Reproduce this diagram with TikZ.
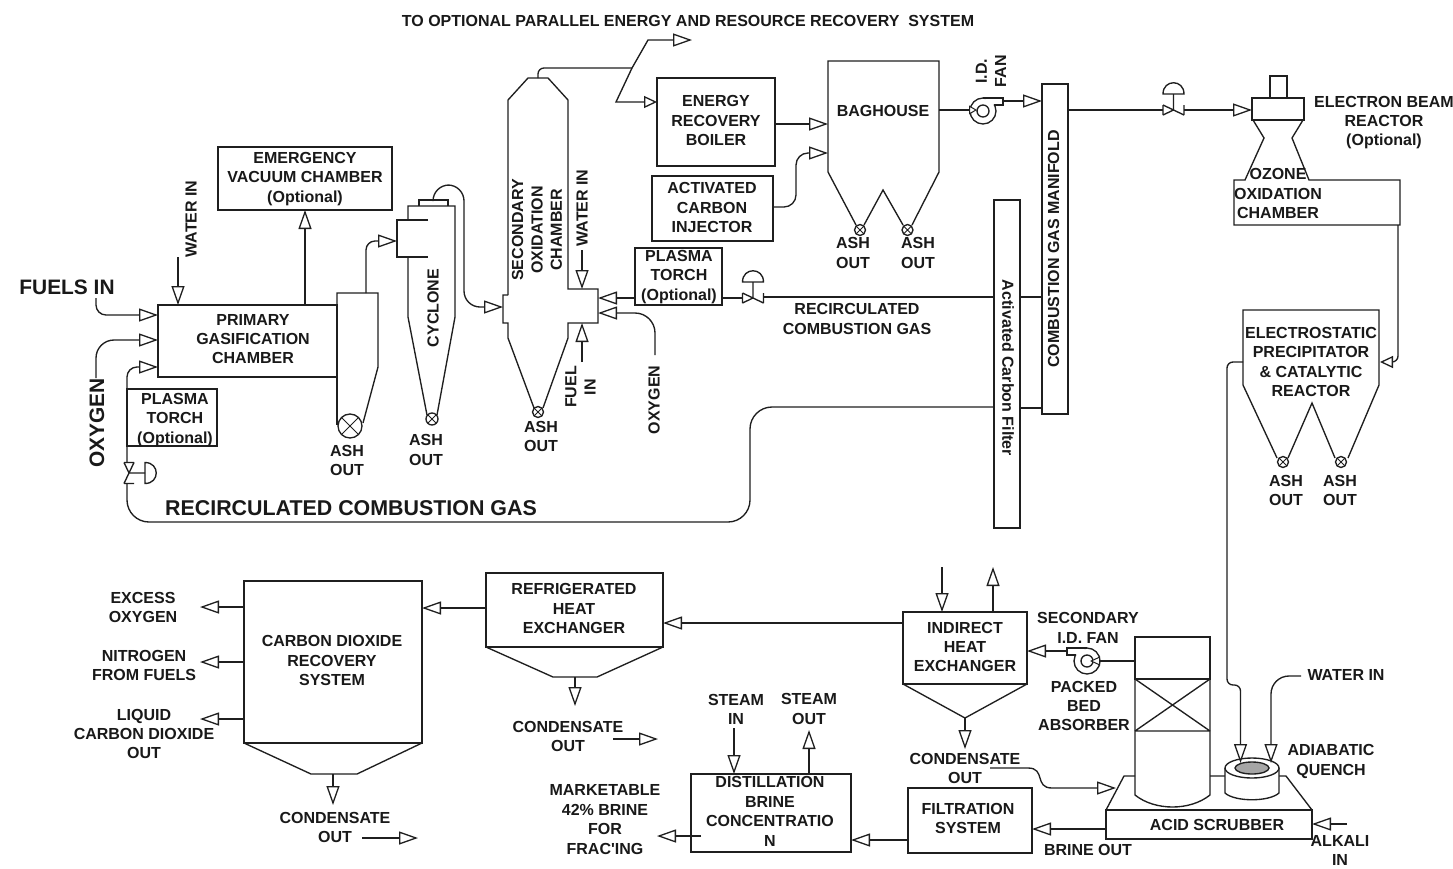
\documentclass[tikz,border=0pt]{standalone}
\usepackage{fontspec}
\setmainfont{Liberation Sans}[Ligatures=TeXOff]
\usetikzlibrary{arrows.meta}
\newcommand{\fsz}[2]{\fontsize{#1}{#2}\selectfont}
\newcommand{\BoxN}[6][]{%
  \node[box,#1,minimum width={(#4)-(#2)},minimum height={(#5)-(#3)}] (#6) at ({((#2)+(#4))/2},{((#3)+(#5))/2}) {};}
\tikzset{
  ln/.style={line width=1.35pt,draw=black!88,line join=miter},
  thk/.style={ln,line width=1.9pt},
  box/.style={rectangle,draw=black!88,line width=1.5pt,inner sep=0pt,outer sep=0pt,fill=white},
  lbl/.style={font=\bfseries\fsz{16}{19.4},align=center,inner sep=0pt,text=black!90},
  big/.style={lbl,font=\bfseries\fsz{20.9}{22}},
  arr/.style={ln,-{Triangle[open,length=19pt,width=13pt,fill=white,line width=1.3pt]}},
  arrt/.style={thk,-{Triangle[open,length=19pt,width=13pt,fill=white,line width=1.3pt]}},
  arrs/.style={ln,-{Triangle[open,length=13pt,width=12pt,fill=white,line width=1.3pt]}},
  ashv/.pic={\draw[ln,fill=white] (0,0) circle (#1pt);
    \draw[ln,line width=1pt] (45:#1pt)--(225:#1pt) (135:#1pt)--(315:#1pt);},
  valve/.pic={
    \draw[ln] (-10.5,-5)--(-10.5,5) (10.5,-5)--(10.5,5) (-10.5,-5)--(10.5,5) (-10.5,5)--(0,0)--(0,-16);
    \draw[ln] (-10.5,-16) .. controls (-10.5,-31) and (10.5,-31) .. (10.5,-16) -- cycle;},
  fan/.pic={
    \draw[ln,fill=white] (0,0) circle (13pt);
    \draw[ln] (0,0) circle (6pt);
    \draw[ln,fill=white] (0,-13) -- (20,-13) -- (20,-6) -- (11,-6);}
}
\begin{document}
\begin{tikzpicture}[x=1pt,y=-1pt]
\useasboundingbox[fill=white] (0,0) rectangle (1453,868);

% ---- top label
\node[lbl] (toptxt) at (688,21) {TO OPTIONAL PARALLEL ENERGY AND RESOURCE RECOVERY\ \ SYSTEM};

% ---- primary gasification
\BoxN{158}{305}{337}{377}{pgc}
\node[lbl] (pgct) at (253,339) {PRIMARY\\GASIFICATION\\CHAMBER};
\BoxN{218}{147}{392}{210}{evc}
\node[lbl] (evct) at (305,179) {EMERGENCY\\VACUUM CHAMBER\\(Optional)};
\draw[arrt] (pgc.north -| evc) -- (evc.south);
\coordinate (wi1) at (178,257);
\draw[arr] (wi1) -- (wi1 |- pgc.north);
\node[lbl,rotate=90] (wi1t) at (191,219) {WATER IN};
\node[big] (fuels) at (67,287) {FUELS IN};
\coordinate (fu1) at (96,298);
\draw[arr,rounded corners=10pt] (fu1) -- (96,315) -- (pgc.west |- 0,315);
\node[big,rotate=90] (oxy1t) at (97,423) {OXYGEN};
\coordinate (ox1) at (96,378);
\draw[arr,rounded corners=18pt] (ox1) -- (96,340) -- (pgc.west |- 0,340);

% ---- recirculated gas (lower)
\BoxN{127}{389}{217}{446}{pt1}
\node[lbl] (pt1t) at (175,420) {PLASMA\\TORCH\\(Optional)};
\node[big,font=\bfseries\fsz{21.4}{22}] (rc1t) at (351,508) {RECIRCULATED COMBUSTION GAS};
\pic[rotate=-90] at (129,473) {valve};
\coordinate (v1a) at (127,462);
\coordinate (v1b) at (127,484);
\draw[arr,rounded corners=10pt] (v1a) -- (127,367) -- (pgc.west |- 0,367);

% ---- ash tank
\coordinate (tk1) at (366,293);
\draw[ln] (337,377) -- (337,293) -- (378,293) -- (378,367) -- (363,423);
\draw[ln] (337,377) -- (337,425);
\pic at (350,426) {ashv=12};
\node[lbl] (ash1) at (347,460.5) {ASH\\OUT};

% ---- cyclone
\draw[ln] (428,220) -- (397,220) -- (397,257) -- (428,257);
\draw[ln] (408,220) -- (408,206) -- (455,206) -- (455,317) -- (437,415);
\draw[ln] (408,257) -- (408,317) -- (427,415);
\draw[ln] (419,206) -- (419,200) -- (448,200) -- (448,206);
\pic at (432,419) {ashv=6};
\coordinate (cyin) at (397,241);
\draw[arr,rounded corners=9pt] (tk1) -- (366,241) -- (cyin);
\node[lbl,rotate=90] (cyt) at (433,308) {CYCLONE};
\node[lbl] (ash2) at (426,450) {ASH\\OUT};

% ---- secondary oxidation chamber
\coordinate (soL) at (503,307);
\coordinate (soR1) at (598,298);
\coordinate (soR2) at (598,313);
\coordinate (soT) at (582,289);
\coordinate (soB) at (582,323);
\coordinate (soTop) at (538,78);
\draw[ln] (508,295) -- (508,100) -- (528,78) -- (548,78) -- (568,100) -- (568,289) -- (598,289) -- (598,323) -- (568,323) -- (568,338) -- (543,408);
\draw[ln] (508,295) -- (503,295) -- (503,323) -- (508,323) -- (508,338) -- (534,408);
\pic at (538,412) {ashv=5.5};
\node[lbl,rotate=90] (sot) at (537,230) {SECONDARY\\OXIDATION\\CHAMBER};
\node[lbl] (ash3) at (541,436.5) {ASH\\OUT};
\draw[arr,rounded corners=16pt] (433,200) -- (433,185) -- (464,185) -- (464,307) -- (soL);
\coordinate (wi2) at (582,250);
\draw[arr] (wi2) -- (soT);
\node[lbl,rotate=90] (wi2t) at (582,208) {WATER IN};
\coordinate (fu2) at (582,362);
\draw[arr] (fu2) -- (soB);
\node[lbl,rotate=90] (fu2t) at (580.5,387) {FUEL\\IN};
\coordinate (ox2) at (655,355);
\draw[arr,rounded corners=20pt] (ox2) -- (655,313) -- (soR2);
\node[lbl,rotate=90] (ox2t) at (654,400) {OXYGEN};

% ---- torch + recirc upper
\BoxN{635}{248}{722}{305}{pt2}
\node[lbl] (pt2t) at (679,277) {PLASMA\\TORCH\\(Optional)};
\draw[arrt] (pt2.west |- soR1) -- (soR1);
\pic at (753,298) {valve};
\draw[thk] (pt2.east |- soR1) -- (742.5,298);
\node[lbl] (rc2t) at (857,319) {RECIRCULATED\\COMBUSTION GAS};

% ---- boiler
\BoxN{657}{78}{775}{166}{erb}
\node[lbl] (erbt) at (716,120.5) {ENERGY\\RECOVERY\\BOILER};
\coordinate (jn) at (632,68);
\coordinate (topout) at (692,40);
\draw[ln,rounded corners=6pt] (soTop) -- (538,68) -- (jn);
\draw[arr] (jn) -- (648,40) -- (topout);
\draw[arrs] (jn) -- (616,102) -- (erb.west |- 0,102);

% ---- baghouse
\BoxN[draw=none,fill=none]{828}{61}{939}{172}{bag}
\draw[ln] (856,225) -- (828,172) -- (828,61) -- (939,61) -- (939,172) -- (912,225) (864,225) -- (883,190) -- (903,225);
\node[lbl] (bagt) at (883,111) {BAGHOUSE};
\pic at (860,230) {ashv=5.5};
\pic at (907.5,230) {ashv=5.5};
\node[lbl] (ash4) at (853,253) {ASH\\OUT};
\node[lbl] (ash5) at (918,253) {ASH\\OUT};
\draw[arr] (erb.east |- 0,124) -- (bag.west |- 0,124);
\BoxN{652}{176}{773}{241}{aci}
\node[lbl] (acit) at (712,207.5) {ACTIVATED\\CARBON\\INJECTOR};
\draw[arr,rounded corners=12pt] (aci.east |- 0,207) -- (796,207) -- (796,153) -- (bag.west |- 0,153);

% ---- fan 1
\pic at (983,111) {fan};
\draw[thk,-{Triangle[open,length=8pt,width=9pt,fill=white,line width=1pt]}] (bag.east |- 0,110) -- (977,110);
\node[lbl,rotate=90] (fant) at (991,71) {I.D.\\FAN};

% ---- manifold, filter
\BoxN{1042}{84}{1068}{414}{man}
\node[lbl,rotate=90] (mant) at (1053.5,249) {COMBUSTION GAS MANIFOLD};
\BoxN{994}{200}{1020}{528}{acf}
\node[lbl,rotate=-90] (acft) at (1008,368) {Activated Carbon Filter};
\draw[arr] (1003,101) -- (man.west |- 0,101);
\draw[ln] (764,297) -- (acf.west |- 0,297);
\draw[ln] (acf.east |- 0,297) -- (man.west |- 0,297);
\draw[ln] (acf.east |- 0,408) -- (man.west |- 0,408);
\draw[ln,rounded corners=22pt] (acf.west |- 0,407) -- (750,407) -- (750,522) -- (127,522) -- (v1b);

% ---- electron beam and ozone
\pic at (1173.5,110) {valve};
\draw[ln] (man.east |- 0,110) -- (1163,110);
\coordinate (ebin) at (1252,110);
\draw[arr] (1184,110) -- (ebin);
\BoxN{1270}{76}{1287}{98}{ebt}
\BoxN{1252}{98}{1304}{120}{ebw}
\draw[ln] (1253,120) -- (1264,138) -- (1245,180) -- (1234,180) -- (1234,225) -- (1400,225) -- (1400,180) -- (1309,180) -- (1292,138) -- (1303,120);
\node[lbl] (ozt) at (1278,193.5) {OZONE\\OXIDATION\\CHAMBER};
\node[lbl] (ebrt) at (1384,122.5) {ELECTRON BEAM\\REACTOR\\(Optional)};
\coordinate (ozout) at (1398,225);

% ---- ESP
\draw[ln] (1243,385) -- (1243,310) -- (1379,310) -- (1379,385) -- (1348,458) (1335,458) -- (1312,403) -- (1288,458) (1277,458) -- (1243,385);
\coordinate (espin) at (1380,362);
\coordinate (espout) at (1243,362);
\draw[arrs,rounded corners=6pt] (ozout) -- (1398,362) -- (espin);
\node[lbl] (espt) at (1311,362) {ELECTROSTATIC\\PRECIPITATOR\\\&\ CATALYTIC\\REACTOR};
\pic at (1283,462) {ashv=5.5};
\pic at (1341,462) {ashv=5.5};
\node[lbl] (ash6) at (1286,490.5) {ASH\\OUT};
\node[lbl] (ash7) at (1340,490.5) {ASH\\OUT};

% ---- scrubber
\BoxN{1135}{637}{1210}{679}{tw1}
\draw[ln] (1135,679) -- (1135,795) .. controls (1155,811) and (1190,811) .. (1210,795) -- (1210,679);
\draw[ln] (1135,731) -- (1210,731) (1135,679) -- (1210,731) (1210,679) -- (1135,731);
\BoxN{1106}{810}{1312}{839}{acid}
\node[lbl] (acidt) at (1217,825) {ACID SCRUBBER};
\draw[ln] (1106,810) -- (1124,776) -- (1135,776) (1210,776) -- (1225,776) (1279,776) -- (1286,776) -- (1312,810);
% quench
\draw[ln,fill=white] (1225,768) -- (1225,793) .. controls (1235,802) and (1269,802) .. (1279,793) -- (1279,768);
\draw[ln,fill=white] (1252,768) ellipse (27pt and 10pt);
\draw[ln,fill=black!35] (1252,768) ellipse (17pt and 6pt);
\coordinate (qa) at (1240.5,763);
\coordinate (qb) at (1271,763);
\draw[arr,rounded corners=6pt] (espout) -- (1227,362) -- (1227,685) -- (1240.5,685) -- (qa);
\coordinate (wi3) at (1301,676);
\draw[arr,rounded corners=18pt] (wi3) -- (1271,676) -- (qb);
\node[lbl] (wi3t) at (1346,675) {WATER IN};
\node[lbl] (qt) at (1331,761.5) {ADIABATIC\\QUENCH};
\node[lbl] (pbt) at (1084,706) {PACKED\\BED\\ABSORBER};

% ---- indirect HX
\BoxN{903}{612}{1027}{684}{ihx}
\node[lbl] (ihxt) at (965,647) {INDIRECT\\HEAT\\EXCHANGER};
\coordinate (ihf) at (965,718);
\draw[ln] (903,684) -- (ihf) -- (1027,684);
\coordinate (ci1) at (942,567);
\coordinate (co1) at (993,567);
\draw[arr] (ci1) -- (ci1 |- ihx.north);
\draw[arr] (co1 |- ihx.north) -- (co1);
\coordinate (ihd) at (965,749);
\draw[arr] (ihf) -- (ihd);
\node[lbl] (cnd1) at (965,768.5) {CONDENSATE\\OUT};
\pic[xscale=-1] at (1087,661) {fan};
\draw[ln,-{Triangle[open,length=10pt,width=9pt,fill=white,line width=1pt]}] (tw1.west |- 0,661) -- (1090,661);
\draw[arrt] (1067,651) -- (ihx.east |- 0,651);
\node[lbl] (sect) at (1088,628) {SECONDARY\\I.D. FAN};
\coordinate (scin) at (1116,788);
\coordinate (cs1) at (990,768);
\draw[arr] (cs1) -- (1028,768) .. controls (1046,768) and (1034,788) .. (1052,788) -- (scin);

% ---- filtration, distillation
\BoxN{908}{788}{1032}{853}{fil}
\node[lbl] (filt) at (968,818.5) {FILTRATION\\SYSTEM};
\draw[arr] (acid.west |- 0,829) -- (fil.east |- 0,829);
\node[lbl] (brt) at (1088,850) {BRINE OUT};
\coordinate (alk) at (1347,824);
\draw[arr] (alk) -- (acid.east |- alk);
\node[lbl] (alkt) at (1340,850.5) {ALKALI\\IN};
\BoxN{691}{774}{851}{852}{dis}
\node[lbl] (dist) at (770,811.5) {DISTILLATION\\BRINE\\CONCENTRATIO\\N};
\draw[arr] (fil.west |- 0,840) -- (dis.east |- 0,840);
\coordinate (mk) at (657,836);
\draw[arr] (701,836) -- (mk);
\node[lbl] (mkt) at (605,819.5) {MARKETABLE\\42\% BRINE\\FOR\\FRAC'ING};
\coordinate (si) at (734,728);
\coordinate (so) at (809,730);
\draw[arr] (si) -- (si |- dis.north);
\draw[arr] (so |- dis.north) -- (so);
\node[lbl] (sit) at (736,709.5) {STEAM\\IN};
\node[lbl] (sot2) at (809,709) {STEAM\\OUT};

% ---- refrigerated HX
\BoxN{486}{573}{663}{647}{rhx}
\node[lbl] (rhxt) at (574,608.5) {REFRIGERATED\\HEAT\\EXCHANGER};
\draw[ln] (486,647) -- (553,677) -- (597,677) -- (663,647);
\coordinate (rf) at (575,677);
\coordinate (rd) at (575,706);
\draw[arr] (rf) -- (rd);
\draw[arr] (ihx.west |- 0,623) -- (rhx.east |- 0,623);
\node[lbl] (cnd2) at (568,736.5) {CONDENSATE\\OUT};
\coordinate (c2a) at (613,739);
\coordinate (c2b) at (658,739);
\draw[arr] (c2a) -- (c2b);

% ---- CO2 recovery
\BoxN{244}{581}{422}{743}{co2}
\node[lbl] (co2t) at (332,660.5) {CARBON DIOXIDE\\RECOVERY\\SYSTEM};
\draw[ln] (244,743) -- (311,774) -- (357,774) -- (422,743);
\coordinate (cf) at (333,774);
\coordinate (cd) at (333,805);
\draw[arr] (cf) -- (cd);
\draw[arr] (rhx.west |- 0,608) -- (co2.east |- 0,608);
\coordinate (o1) at (200,607);
\coordinate (o2) at (200,662);
\coordinate (o3) at (200,719);
\draw[arr] (co2.west |- o1) -- (o1);
\draw[arr] (co2.west |- o2) -- (o2);
\draw[arrt] (co2.west |- o3) -- (o3);
\node[lbl] (o1t) at (143,607.5) {EXCESS\\OXYGEN};
\node[lbl] (o2t) at (144,665.5) {NITROGEN\\FROM FUELS};
\node[lbl] (o3t) at (144,734) {LIQUID\\CARBON DIOXIDE\\OUT};
\node[lbl] (cnd3) at (335,827.5) {CONDENSATE\\OUT};
\coordinate (c3a) at (362,838);
\coordinate (c3b) at (418,838);
\draw[arr] (c3a) -- (c3b);
\end{tikzpicture}
\end{document}
